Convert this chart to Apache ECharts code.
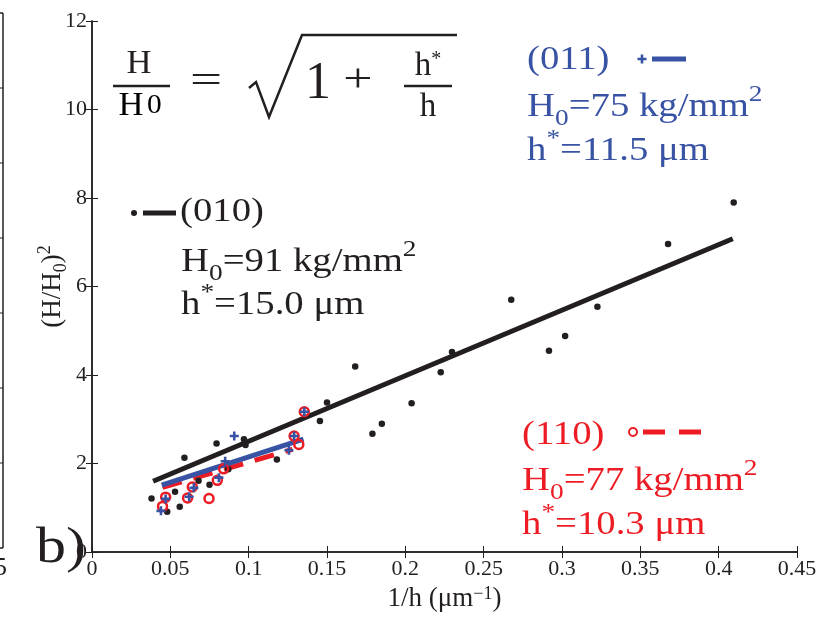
<!DOCTYPE html>
<html><head><meta charset="utf-8">
<script src="https://cdn.jsdelivr.net/npm/echarts@6/dist/echarts.min.js"></script>
<style>html,body{margin:0;padding:0;background:#fff}#c{width:827px;height:620px}</style>
</head><body><div id="c"></div>
<script>
// ---- data ----
const xTicks = [0, 0.05, 0.1, 0.15, 0.2, 0.25, 0.3, 0.35, 0.4, 0.45];
const yTicks = [0, 2, 4, 6, 8, 10, 12];
// (010) measured points
const x010 = [0.038, 0.048, 0.053, 0.056, 0.059, 0.068, 0.075, 0.0795, 0.087, 0.097, 0.098, 0.118, 0.1455, 0.150, 0.168, 0.179, 0.185, 0.204, 0.2226, 0.2298, 0.2676, 0.2917, 0.302, 0.3226, 0.3677, 0.4096];
const y010 = [1.21, 0.91, 1.36, 1.02, 2.13, 1.61, 1.52, 2.45, 1.87, 2.55, 2.42, 2.09, 2.96, 3.38, 4.19, 2.67, 2.90, 3.36, 4.06, 4.52, 5.70, 4.55, 4.88, 5.54, 6.96, 7.90];
// (011) measured points
const x011 = [0.044, 0.047, 0.062, 0.065, 0.081, 0.085, 0.0908, 0.1257, 0.129, 0.1355];
const y011 = [0.93, 1.20, 1.25, 1.45, 1.68, 2.05, 2.62, 2.30, 2.62, 3.17];
// (110) measured points
const x110 = [0.045, 0.047, 0.061, 0.064, 0.0747, 0.080, 0.084, 0.129, 0.132, 0.1355];
const y110 = [1.03, 1.24, 1.22, 1.47, 1.21, 1.62, 1.88, 2.62, 2.43, 3.17];
// fit lines (end points)
const fit010X = [0.039, 0.409];
const fit010Y = [1.60, 7.08];
const fit011X = [0.0445, 0.135];
const fit011Y = [1.51, 2.55];
const fit110X = [0.045, 0.128];
const fit110Y = [1.46, 2.32];

const BLACK = '#231f20', BLUE = '#3953a4', RED = '#ed1c24';
const SERIF = 'Liberation Serif, Times New Roman, serif';
const pair = (xs, ys) => xs.map((x, i) => [x, ys[i]]);
const PLUS = 'path://M-1.3,-4.5 L1.3,-4.5 L1.3,-1.3 L4.5,-1.3 L4.5,1.3 L1.3,1.3 L1.3,4.5 L-1.3,4.5 L-1.3,1.3 L-4.5,1.3 L-4.5,-1.3 L-1.3,-1.3 Z';
const SX = 1.14; // horizontal stretch of the annotation lettering

function richTxt(fs, color) {
  return {
    n: { fontSize: fs, fontFamily: SERIF, color: color, lineHeight: fs * 1.4, verticalAlign: 'middle' },
    sub: { fontSize: Math.round(fs * 0.72), fontFamily: SERIF, color: color, lineHeight: Math.round(fs * 0.72), verticalAlign: 'bottom' },
    sup: { fontSize: Math.round(fs * 0.72), fontFamily: SERIF, color: color, lineHeight: Math.round(fs * 0.72), verticalAlign: 'top' }
  };
}
function txt(x, y, text, fs, color) {
  return { type: 'text', x: x, y: y, z: 100, scaleX: SX,
    style: { text: text, rich: richTxt(fs, color), fill: color, font: fs + 'px ' + SERIF, textAlign: 'left', textVerticalAlign: 'middle' } };
}
function plainTxt(x, y, text, fs, color, align, sx) {
  return { type: 'text', x: x, y: y, z: 100, scaleX: sx || 1,
    style: { text: text, fill: color, font: fs + 'px ' + SERIF, textAlign: align || 'left', textVerticalAlign: 'middle' } };
}
function ln(x1, y1, x2, y2, color, w, dash) {
  return { type: 'line', z: 100, shape: { x1: x1, y1: y1, x2: x2, y2: y2 },
    style: { stroke: color, lineWidth: w, lineDash: dash || null } };
}
function plusGlyph(cx, cy, color) {
  const a = 1.3, b = 4.5;
  const p = [[-a,-b],[a,-b],[a,-a],[b,-a],[b,a],[a,a],[a,b],[-a,b],[-a,a],[-b,a],[-b,-a],[-a,-a]].map(q => [cx + q[0], cy + q[1]]);
  return { type: 'polygon', z: 100, shape: { points: p }, style: { fill: color } };
}

const graphics = [
  // formula
  plainTxt(139, 64, 'H', 33, BLACK, 'center', 1.05),
  ln(113, 86, 170, 86, BLACK, 2.5),
  { type: 'text', x: 140, y: 106, z: 100, scaleX: 1.05, style: { text: '{a|H} {b|0}', rich: { a: { fontSize: 33, fontFamily: SERIF, color: BLACK }, b: { fontSize: 28, fontFamily: SERIF, color: BLACK } }, textAlign: 'center', textVerticalAlign: 'middle' } },
  plainTxt(206, 82, '=', 38, BLACK, 'center', 1.5),
  { type: 'polyline', z: 100, shape: { points: [[249, 88], [256, 82], [269, 117], [302, 35], [457, 35]] }, style: { stroke: BLACK, lineWidth: 2.5, fill: null } },
  plainTxt(318, 84, '1', 52, BLACK, 'center'),
  plainTxt(358, 80, '+', 40, BLACK, 'center', 1.3),
  { type: 'text', x: 428, y: 66, z: 100, style: { text: 'h{s|*}', rich: { s: { fontSize: 20, fontFamily: SERIF, color: BLACK, verticalAlign: 'top', lineHeight: 20 } }, font: '33px ' + SERIF, fill: BLACK, textAlign: 'center', textVerticalAlign: 'middle' } },
  ln(404, 86, 452, 86, BLACK, 2.5),
  plainTxt(428, 107, 'h', 33, BLACK, 'center'),
  // (010) annotation
  { type: 'circle', z: 100, shape: { cx: 134, cy: 213, r: 3 }, style: { fill: BLACK } },
  ln(143, 213, 176, 213, BLACK, 5),
  plainTxt(180, 212, '(010)', 34, BLACK, 'left', SX),
  txt(181, 262, '{n|H}{sub|0}{n|=91 kg/mm}{sup|2}', 34, BLACK),
  txt(181, 305, '{n|h}{sup|*}{n|=15.0 μm}', 34, BLACK),
  // (011) annotation
  plainTxt(527, 60, '(011)', 34, BLUE, 'left', SX),
  plusGlyph(642, 59, BLUE),
  ln(652, 59, 686, 59, BLUE, 5),
  txt(527, 107, '{n|H}{sub|0}{n|=75 kg/mm}{sup|2}', 34, BLUE),
  txt(527, 151, '{n|h}{sup|*}{n|=11.5 μm}', 34, BLUE),
  // (110) annotation
  plainTxt(522, 435, '(110)', 34, RED, 'left', SX),
  { type: 'circle', z: 100, shape: { cx: 633, cy: 432, r: 4 }, style: { fill: null, stroke: RED, lineWidth: 2 } },
  ln(643, 432, 665, 432, RED, 5),
  ln(679, 432, 701, 432, RED, 5),
  txt(522, 481, '{n|H}{sub|0}{n|=77 kg/mm}{sup|2}', 34, RED),
  txt(522, 525, '{n|h}{sup|*}{n|=10.3 μm}', 34, RED),
  // panel label and clipped previous panel
  plainTxt(36, 549, 'b)', 50, BLACK, 'left', 1.2),
  ln(3, 13, 3, 548, BLACK, 1.5),
  ln(0, 13, 3, 13, BLACK, 1.5),
  ln(0, 548, 3, 548, BLACK, 1.5),
  ln(0, 88, 3, 88, BLACK, 1), ln(0, 163, 3, 163, BLACK, 1), ln(0, 238, 3, 238, BLACK, 1),
  ln(0, 313, 3, 313, BLACK, 1), ln(0, 388, 3, 388, BLACK, 1), ln(0, 463, 3, 463, BLACK, 1),
  plainTxt(-6, 568, '5', 26, BLACK)
];

const axisCommon = {
  axisLine: { show: true, lineStyle: { color: BLACK, width: 1.5 } },
  axisTick: { show: true, inside: true, length: 6, lineStyle: { color: BLACK, width: 1 } },
  splitLine: { show: false }
};

const option = {
  animation: false,
  backgroundColor: '#fff',
  grid: { left: 92, right: 30, top: 21, bottom: 68, containLabel: false },
  xAxis: [
    Object.assign({ type: 'value', min: 0, max: 0.45, interval: 0.05, position: 'bottom',
      name: '1/h (μm{sup|−1})', nameLocation: 'middle', nameGap: 33, nameMoveOverlap: false,
      nameTextStyle: { fontFamily: SERIF, fontSize: 27, color: BLACK,
        rich: { sup: { fontSize: 18, fontFamily: SERIF, color: BLACK, verticalAlign: 'top', lineHeight: 18 } } },
      axisLabel: { fontFamily: SERIF, fontSize: 22, color: BLACK, margin: 6,
        formatter: v => { const t = xTicks.find(k => Math.abs(k - v) < 1e-9); return t === undefined ? '' : String(t); } } }, axisCommon),
    Object.assign({ type: 'value', min: 0, max: 0.45, interval: 0.05, position: 'top', axisLabel: { show: false } }, axisCommon)
  ],
  yAxis: [
    Object.assign({ type: 'value', min: 0, max: 12, interval: 2, position: 'left',
      name: '(H/H{sub|0}){sup|2}', nameLocation: 'middle', nameGap: 22, nameRotate: 90, nameMoveOverlap: false,
      nameTextStyle: { fontFamily: SERIF, fontSize: 27, color: BLACK, lineHeight: 34,
        rich: { sub: { fontSize: 18, fontFamily: SERIF, color: BLACK, verticalAlign: 'bottom', lineHeight: 18 },
                sup: { fontSize: 18, fontFamily: SERIF, color: BLACK, verticalAlign: 'top', lineHeight: 18 } } },
      axisLabel: { fontFamily: SERIF, fontSize: 22, color: BLACK, margin: 5,
        formatter: v => { const t = yTicks.find(k => Math.abs(k - v) < 1e-9); return t === undefined ? '' : String(t); } } }, axisCommon),
    Object.assign({ type: 'value', min: 0, max: 12, interval: 2, position: 'right', axisLabel: { show: false } }, axisCommon)
  ],
  series: [
    { type: 'line', data: pair(fit010X, fit010Y), showSymbol: false, symbol: 'none', z: 2,
      lineStyle: { color: BLACK, width: 5, cap: 'butt' } },
    { type: 'line', data: pair(fit110X, fit110Y), showSymbol: false, symbol: 'none', z: 2,
      lineStyle: { color: RED, width: 5, type: [20, 12], cap: 'butt' } },
    { type: 'line', data: pair(fit011X, fit011Y), showSymbol: false, symbol: 'none', z: 3,
      lineStyle: { color: BLUE, width: 5, cap: 'butt' } },
    { type: 'scatter', data: pair(x010, y010), symbol: 'circle', symbolSize: 6.5, z: 4,
      itemStyle: { color: BLACK, opacity: 1 } },
    { type: 'scatter', data: pair(x110, y110), symbol: 'circle', symbolSize: 9, z: 5,
      itemStyle: { color: 'rgba(0,0,0,0)', borderColor: RED, borderWidth: 2.5, opacity: 1 } },
    { type: 'scatter', data: pair(x011, y011), symbol: PLUS, symbolSize: 9, z: 6,
      itemStyle: { color: BLUE, opacity: 1 } }
  ],
  graphic: graphics
};
const chart = echarts.init(document.getElementById('c'), null, { renderer: 'canvas' });
chart.setOption(option);
</script></body></html>
